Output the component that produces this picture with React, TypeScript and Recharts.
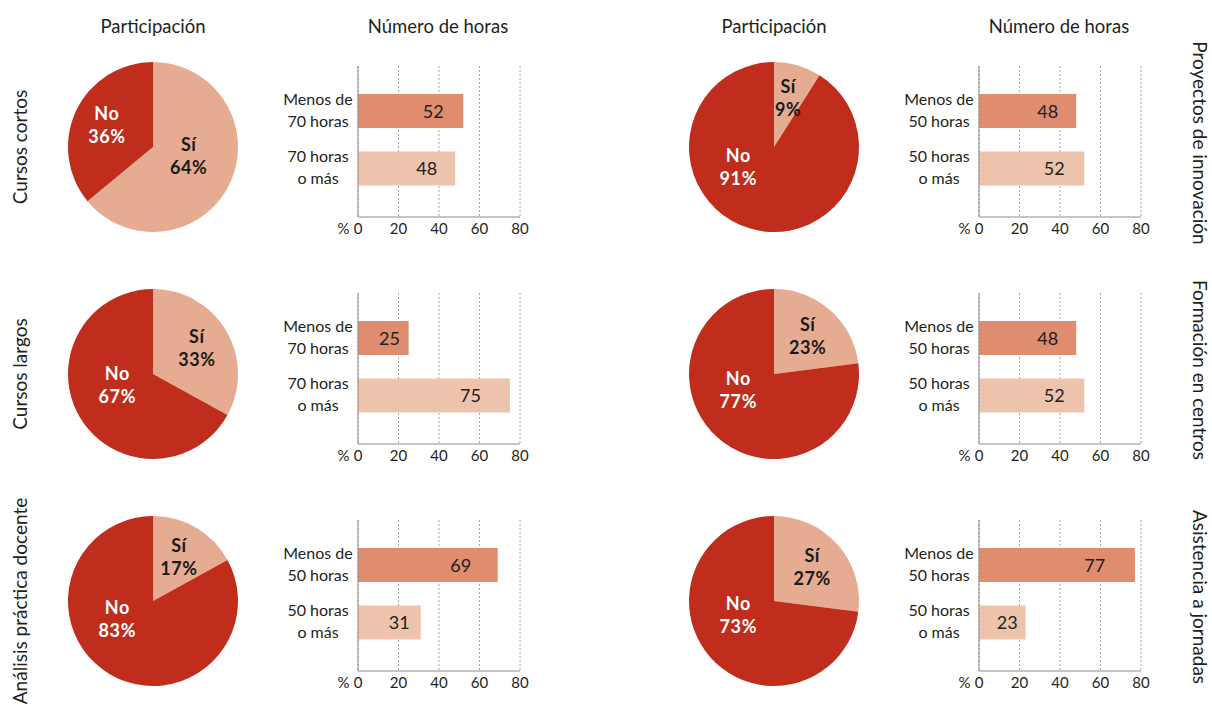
import React from 'react';
import { PieChart, Pie, Cell, BarChart, Bar, XAxis, YAxis, CartesianGrid } from 'recharts';

// Panels are ordered: left column top to bottom, then right column top to bottom
const leftRowLabels = ['Cursos cortos', 'Cursos largos', 'Análisis práctica docente'];
const rightRowLabels = ['Proyectos de innovación', 'Formación en centros', 'Asistencia a jornadas'];
const columnTitles = ['Participación', 'Número de horas'];

const participationNames = ['Sí', 'No'];
const participationYes = [64, 33, 17, 9, 23, 27];
const participationNo = [36, 67, 83, 91, 77, 73];

const hourThresholds = [70, 70, 50, 50, 50, 50];
const hoursBelow = [52, 25, 69, 48, 48, 77];
const hoursAbove = [48, 75, 31, 52, 52, 23];
const hourTicks = [0, 20, 40, 60, 80];

const FONT = 'Lato, "Open Sans", sans-serif';
const TEXT = '#231f20';
const PIE_COLORS = ['#e6ac92', '#c02d1c'];
const PIE_LABEL_COLORS = ['#1a1a1a', '#ffffff'];
const BAR_COLORS = ['#df8c6f', '#eec3ab'];
const AXIS = '#8c8c8c';

// layout
const PIE_CX = [153, 774];
const AXIS_X = [358, 979];
const ROW_PIE_CY = [147, 374, 601];
const ROW_AXIS_TOP = [66, 293, 520];
const PIE_R = 85;

const renderPieLabel = (props: any) => {
    const { cx, cy, midAngle, outerRadius, value, index } = props;
    const rad = (-midAngle * Math.PI) / 180;
    let x: number;
    let y: number;
    if (value > 50) {
        // big slices: label sits on the slice's side, near the middle
        x = cx + Math.sign(Math.cos(rad)) * outerRadius * 0.42;
        y = cy + Math.sin(rad) * outerRadius * 0.25;
    } else {
        x = cx + Math.cos(rad) * outerRadius * 0.6;
        y = cy + Math.sin(rad) * outerRadius * 0.6;
    }
    return (
        <text
            x={x}
            y={y}
            textAnchor="middle"
            fill={PIE_LABEL_COLORS[index]}
            fontFamily={FONT}
            fontWeight={700}
            fontSize={18}
            letterSpacing={0.6}
        >
            <tspan x={x} y={y - 5}>{participationNames[index]}</tspan>
            <tspan x={x} y={y + 18}>{value}%</tspan>
        </text>
    );
};

const renderBarLabel = (props: any) => {
    const { x, y, width, height, value } = props;
    const tx = x + width * 0.8 - 9;
    return (
        <text x={tx} y={y + height / 2 + 6.5} textAnchor="middle" fill={TEXT} fontFamily={FONT} fontSize={18}>
            {value}
        </text>
    );
};

const CategoryTick = (props: any) => {
    const { x, y, payload } = props;
    const lines = String(payload.value).split('\n');
    return (
        <text textAnchor="middle" fill={TEXT} fontFamily={FONT} fontSize={16}>
            <tspan x={x - 40} y={y - 6}>{lines[0]}</tspan>
            <tspan x={x - 40} y={y + 16}>{lines[1]}</tspan>
        </text>
    );
};

const HourTick = (props: any) => {
    const { x, y, payload } = props;
    return (
        <g>
            {payload.value === 0 && (
                <text x={x - 14.5} y={y + 17} textAnchor="middle" fill={TEXT} fontFamily={FONT} fontSize={15}>
                    %
                </text>
            )}
            <text x={x} y={y + 17} textAnchor="middle" fill={TEXT} fontFamily={FONT} fontSize={15}>
                {payload.value}
            </text>
        </g>
    );
};

const Panel = ({ index }: { index: number }) => {
    const col = Math.floor(index / 3);
    const row = index % 3;
    const t = hourThresholds[index];

    const pieData = [
        { name: participationNames[0], value: participationYes[index] },
        { name: participationNames[1], value: participationNo[index] },
    ];
    const barData = [
        { cat: `Menos de\n${t} horas`, value: hoursBelow[index] },
        { cat: `${t} horas\no más`, value: hoursAbove[index] },
    ];

    const pieBox = 190;
    const pieLeft = PIE_CX[col] - pieBox / 2;
    const pieTop = ROW_PIE_CY[row] - pieBox / 2;

    return (
        <>
            <div style={{ position: 'absolute', left: pieLeft, top: pieTop }}>
                <PieChart width={pieBox} height={pieBox} margin={{ top: 0, right: 0, bottom: 0, left: 0 }}>
                    <Pie
                        data={pieData}
                        dataKey="value"
                        cx="50%"
                        cy="50%"
                        outerRadius={PIE_R}
                        startAngle={90}
                        endAngle={-270}
                        stroke="none"
                        labelLine={false}
                        label={renderPieLabel}
                        isAnimationActive={false}
                    >
                        {pieData.map((d, i) => (
                            <Cell key={`p-${i}`} fill={PIE_COLORS[i]} />
                        ))}
                    </Pie>
                </PieChart>
            </div>
            <div style={{ position: 'absolute', left: AXIS_X[col] - 108, top: ROW_AXIS_TOP[row] - 16 }}>
                <BarChart
                    layout="vertical"
                    width={290}
                    height={200}
                    data={barData}
                    margin={{ top: 16, right: 20, bottom: 5, left: 0 }}
                >
                    <CartesianGrid horizontal={false} stroke="#a8a8a8" strokeDasharray="2 2" />
                    <XAxis
                        type="number"
                        domain={[0, 80]}
                        ticks={hourTicks}
                        interval={0}
                        height={28}
                        tickSize={0}
                        tickMargin={0}
                        axisLine={{ stroke: AXIS }}
                        tick={<HourTick />}
                    />
                    <YAxis
                        type="category"
                        dataKey="cat"
                        width={108}
                        tickSize={0}
                        tickMargin={0}
                        axisLine={{ stroke: AXIS }}
                        tick={<CategoryTick />}
                        padding={{ top: 16, bottom: 20 }}
                    />
                    <Bar dataKey="value" barSize={34} isAnimationActive={false} label={renderBarLabel}>
                        {barData.map((d, i) => (
                            <Cell key={`b-${i}`} fill={BAR_COLORS[i]} />
                        ))}
                    </Bar>
                </BarChart>
            </div>
        </>
    );
};

const App = () => {
    const hourTitleX = AXIS_X.map((x) => x + 80);
    return (
        <div
            style={{
                position: 'absolute',
                left: 0,
                top: 0,
                width: 1212,
                height: 707,
                background: '#ffffff',
                fontFamily: FONT,
                overflow: 'hidden',
            }}
        >
            <svg width={1212} height={707} style={{ position: 'absolute', left: 0, top: 0 }}>
                {[0, 1].map((col) => (
                    <g key={`t-${col}`}>
                        <text x={PIE_CX[col]} y={33} textAnchor="middle" fill={TEXT} fontFamily={FONT} fontSize={18.5}>
                            {columnTitles[0]}
                        </text>
                        <text x={hourTitleX[col]} y={33} textAnchor="middle" fill={TEXT} fontFamily={FONT} fontSize={18.5}>
                            {columnTitles[1]}
                        </text>
                    </g>
                ))}
                {leftRowLabels.map((label, row) => (
                    <text
                        key={`l-${row}`}
                        transform={`translate(27, ${ROW_PIE_CY[row]}) rotate(-90)`}
                        textAnchor="middle"
                        fill={TEXT}
                        fontFamily={FONT}
                        fontSize={19}
                    >
                        {label}
                    </text>
                ))}
                {rightRowLabels.map((label, row) => (
                    <text
                        key={`r-${row}`}
                        transform={`translate(1193, ${ROW_PIE_CY[row] - 4}) rotate(90)`}
                        textAnchor="middle"
                        fill={TEXT}
                        fontFamily={FONT}
                        fontSize={19}
                    >
                        {label}
                    </text>
                ))}
            </svg>
            {[0, 1, 2, 3, 4, 5].map((i) => (
                <Panel key={i} index={i} />
            ))}
        </div>
    );
};

export default App;
